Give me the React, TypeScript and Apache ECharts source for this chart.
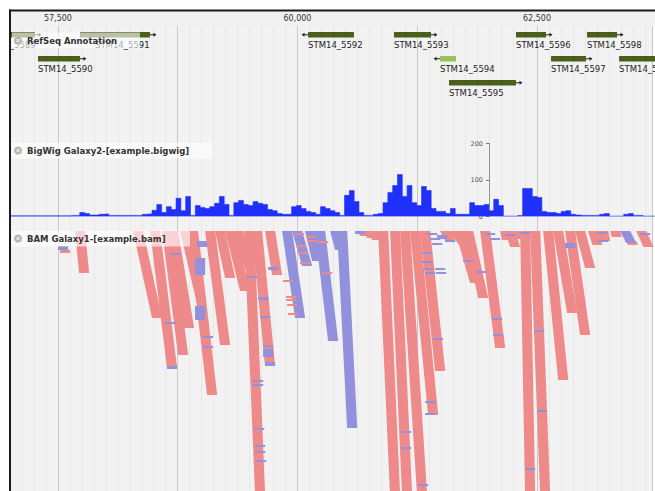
import React, { useEffect, useRef } from "react";
import * as echarts from "echarts";

// ---- genomic window ----
const VIEW_START = 57000;
const VIEW_END = 63700;
const MINOR_STEP = 125;
const RULER_LABELS = [57500, 60000, 62500];

// ---- RefSeq annotation ----
const geneNames = ["STM14_5589", "STM14_5591", "STM14_5590", "STM14_5592", "STM14_5593", "STM14_5594", "STM14_5595", "STM14_5596", "STM14_5597", "STM14_5598", "STM14_5599"];
const geneStarts = [56700, 57727, 57291, 60096, 60989, 61467, 61560, 62256, 62620, 62994, 63327];
const geneEnds = [57260, 58454, 57727, 60573, 61373, 61633, 62256, 62568, 62983, 63306, 63900];
const geneRows = [0, 0, 1, 0, 0, 1, 2, 0, 1, 0, 1];
const geneStrands = [1, 1, 1, -1, 1, -1, 1, 1, 1, 1, 1];
const geneLabelAt = [56700, 57883, 57291, 60096, 60989, 61467, 61560, 62256, 62620, 62994, 63327];
const geneKinds = ["cds", "cds", "cds", "cds", "cds", "pseudo", "cds", "cds", "cds", "cds", "cds"];

// ---- BigWig coverage (50 bp bins from 57,000) ----
const COVERAGE_START = 57000;
const COVERAGE_BIN = 50;
const coverage = [
  2, 2, 2, 2, 2, 2, 2, 2, 2, 2, 2, 2, 2, 3, 3, 11, 8, 4, 4, 6,
  7, 3, 3, 3, 3, 3, 3, 3, 6, 7, 17, 33, 11, 27, 19, 50, 16, 55, 3, 30,
  25, 22, 27, 36, 55, 33, 3, 38, 44, 33, 30, 41, 36, 33, 19, 16, 8, 6, 6, 27,
  30, 22, 14, 11, 6, 27, 22, 16, 11, 3, 58, 71, 41, 11, 3, 3, 6, 8, 38, 66,
  85, 115, 55, 85, 38, 30, 82, 71, 22, 14, 14, 8, 22, 6, 6, 6, 38, 30, 30, 33,
  16, 47, 30, 1, 1, 1, 3, 77, 77, 55, 52, 14, 11, 11, 8, 14, 16, 6, 4, 3,
  3, 3, 3, 6, 8, 1, 1, 1, 6, 8, 3, 3, 1, 1, 1,
];
const COVERAGE_TICKS_MAX = 200;

// ---- BAM: stacks of reads [topStart, bottomStart, fromRow, toRow] ----
const READ_BP = 105;
const forwardStacks = [
  [57675, 57717, 0, 42], [57520, 57520, 19, 22],
  [58278, 58475, 0, 87], [58455, 58631, 0, 137], [58579, 58746, 0, 124],
  [58642, 58808, 0, 97], [58766, 58933, 0, 69], [58849, 59047, 0, 164],
  [59026, 59182, 0, 114], [59130, 59234, 0, 47], [59234, 59390, 0, 60],
  [59317, 59442, 0, 39], [59432, 59546, 0, 265], [59514, 59649, 0, 135],
  [59649, 59722, 0, 44],
  [60600, 60640, 0, 5], [60678, 60710, 0, 7], [60720, 60760, 0, 9],
  [60824, 60948, 0, 265], [60948, 61073, 0, 265],
  [61052, 61229, 0, 265], [61156, 61343, 0, 184], [61260, 61416, 0, 140],
  [61468, 61520, 0, 10], [61551, 61676, 0, 15], [61624, 61779, 0, 52],
  [61707, 61863, 0, 67], [61883, 62039, 0, 117], [62091, 62110, 0, 9],
  [62143, 62195, 0, 16], [62190, 62240, 0, 8], [62299, 62351, 0, 265], [62403, 62507, 0, 265],
  [62538, 62694, 0, 149], [62642, 62787, 0, 82], [62766, 62922, 0, 104],
  [62870, 62974, 0, 37], [63005, 63050, 0, 14], [63109, 63130, 0, 10],
  [63234, 63250, 0, 6], [63400, 63420, 10, 14], [63504, 63580, 0, 16],
];
const reverseStacks = [
  [57499, 57499, 15, 19],
  [59826, 59961, 0, 87], [59930, 60034, 0, 35], [60065, 60138, 0, 30],
  [60169, 60304, 0, 110], [60398, 60502, 0, 197], [60325, 60377, 0, 19],
  [60585, 60585, 0, 3], [63338, 63400, 0, 12],
];
// mismatches [start, row, rows]
const mismatchesOnForward = [
  [58662, 22, 2], [58610, 91, 2], [58631, 135, 3], [58943, 10, 6], [58922, 27, 17],
  [58922, 75, 14], [59005, 105, 2], [59005, 115, 2], [59462, 45, 2], [59525, 149, 2],
  [59525, 153, 2], [59535, 197, 2], [59546, 214, 2], [59546, 220, 2], [59556, 229, 2],
  [59577, 66, 3], [59598, 85, 2], [59629, 114, 2], [59629, 118, 8], [59649, 131, 4],
  [59681, 36, 3], [61062, 200, 2], [61062, 216, 2], [61239, 253, 2], [61312, 170, 2],
  [61312, 182, 2], [61281, 21, 2], [61281, 30, 2], [61291, 37, 2], [61312, 41, 2],
  [61395, 107, 2], [61333, 2, 2], [61364, 7, 2], [61385, 12, 2], [61416, 37, 2],
  [61426, 41, 2], [61437, 4, 4], [61520, 9, 2], [61707, 29, 2], [61842, 40, 2],
  [62008, 87, 2], [62018, 103, 2], [62299, 1, 2], [62351, 237, 2], [62444, 99, 2],
  [62475, 179, 2], [62766, 12, 5], [63099, 1, 2], [63109, 9, 2], [61935, 2, 2],
  [61987, 7, 2], [62143, 3, 2], [63545, 2, 2],
];
const mismatchesOnReverse = [
  [59836, 49, 2], [59868, 65, 2], [59868, 68, 2], [59878, 73, 2], [59888, 82, 2],
  [59951, 2, 2], [59972, 14, 2], [59992, 21, 2], [60013, 31, 2], [60075, 5, 2],
  [60086, 9, 2], [60200, 10, 2], [60242, 41, 2],
];

// ---- styles ----
const PINK = "#ef8a8b";
const LAVENDER = "#9391db";
const COVERAGE_BLUE = "#1f30fb";
const GENE_GREEN = "#4b5e1b";
const PSEUDO_GREEN = "#9dbf5a";
const MINOR_LINE = "#e8e8e8";
const MAJOR_LINE = "#c8c8c8";
const GRID_LINE_COLORS = [MINOR_LINE, MINOR_LINE, MINOR_LINE, MINOR_LINE, MAJOR_LINE, MINOR_LINE, MINOR_LINE, MINOR_LINE, MINOR_LINE, MINOR_LINE];
const ROW_PITCH = 24;
const BAR_OFFSET = 6;
const BAR_H = 5.5;
const FONT = "DejaVu Sans";

function geneRender(params: any, api: any) {
  const i = params.dataIndex;
  const s = api.value(0);
  const e = api.value(1);
  const row = api.value(2);
  const strand = api.value(3);
  const labAt = api.value(4);
  const p0 = api.coord([s, row * ROW_PITCH + BAR_OFFSET]);
  const p1 = api.coord([e, row * ROW_PITCH + BAR_OFFSET]);
  const pl = api.coord([labAt, row * ROW_PITCH + BAR_OFFSET]);
  const y = p0[1];
  const cy = y + BAR_H / 2;
  const children: any[] = [
    {
      type: "rect",
      shape: { x: p0[0], y, width: p1[0] - p0[0], height: BAR_H },
      style: { fill: geneKinds[i] === "pseudo" ? PSEUDO_GREEN : GENE_GREEN },
    },
  ];
  if (strand > 0) {
    children.push({ type: "line", shape: { x1: p1[0], y1: cy, x2: p1[0] + 4, y2: cy }, style: { stroke: "#222", lineWidth: 1 } });
    children.push({ type: "polygon", shape: { points: [[p1[0] + 3.5, cy - 2], [p1[0] + 6.5, cy], [p1[0] + 3.5, cy + 2]] }, style: { fill: "#222" } });
  } else {
    children.push({ type: "line", shape: { x1: p0[0], y1: cy, x2: p0[0] - 4, y2: cy }, style: { stroke: "#222", lineWidth: 1 } });
    children.push({ type: "polygon", shape: { points: [[p0[0] - 3.5, cy - 2], [p0[0] - 6.5, cy], [p0[0] - 3.5, cy + 2]] }, style: { fill: "#222" } });
  }
  children.push({
    type: "text",
    x: pl[0],
    y: y + 13,
    style: {
      text: geneNames[i],
      fill: "#222",
      fontSize: 8.5,
      fontFamily: FONT,
      textAlign: "left",
      textVerticalAlign: "middle",
      align: "left",
      verticalAlign: "middle",
    },
  });
  return { type: "group", children };
}

function stackRender(color: string) {
  return (params: any, api: any) => {
    const tl = api.value(0);
    const bl = api.value(1);
    const r0 = api.value(2);
    const r1 = api.value(3);
    return {
      type: "polygon",
      shape: {
        points: [
          api.coord([tl, r0]),
          api.coord([tl + READ_BP, r0]),
          api.coord([bl + READ_BP, r1]),
          api.coord([bl, r1]),
        ],
      },
      style: { fill: color },
    };
  };
}

function markRender(color: string) {
  return (params: any, api: any) => {
    const s = api.value(0);
    const r = api.value(1);
    const h = api.value(2);
    const a = api.coord([s, r]);
    const b = api.coord([s + READ_BP, r + h]);
    return {
      type: "rect",
      shape: { x: a[0], y: a[1], width: b[0] - a[0], height: b[1] - a[1] },
      style: { fill: color },
    };
  };
}

function trackLabel(text: string, cy: number, boxRight: number) {
  return [
    { type: "rect", z: 60, shape: { x: 12, y: cy - 8, width: boxRight - 12, height: 16 }, style: { fill: "rgba(255,255,255,0.62)" } },
    { type: "circle", z: 61, shape: { cx: 18, cy, r: 4 }, style: { fill: "#b4b4b4" } },
    { type: "line", z: 62, shape: { x1: 16.3, y1: cy - 1.7, x2: 19.7, y2: cy + 1.7 }, style: { stroke: "#fff", lineWidth: 1 } },
    { type: "line", z: 62, shape: { x1: 16.3, y1: cy + 1.7, x2: 19.7, y2: cy - 1.7 }, style: { stroke: "#fff", lineWidth: 1 } },
    {
      type: "text", z: 62, x: 27, y: cy,
      style: { text, fill: "#333", fontSize: 8.5, fontWeight: "bold", fontFamily: FONT, textVerticalAlign: "middle", verticalAlign: "middle" },
    },
  ];
}

const hiddenX = (gridIndex: number) => ({ gridIndex, type: "value", min: VIEW_START, max: VIEW_END, show: false });

const option: any = {
  animation: false,
  backgroundColor: "#ffffff",
  grid: [
    { left: 10, right: 0, top: 26, bottom: 0, show: true, backgroundColor: "#f2f2f2", borderWidth: 0 },
    { left: 10, right: 0, top: 26, height: 80 },
    { left: 10, right: 0, top: 143.5, height: 73 },
    { left: 489, width: 1, top: 143.5, height: 73 },
    { left: 10, right: 0, top: 231, height: 260 },
  ],
  xAxis: [
    {
      gridIndex: 0, type: "value", min: VIEW_START, max: VIEW_END, interval: MINOR_STEP, position: "top",
      axisLine: { show: true, lineStyle: { color: "#a8a8a8" } },
      axisTick: { show: false },
      axisLabel: {
        fontSize: 8, color: "#333", margin: 4, fontFamily: FONT,
        formatter: (v: number) => (RULER_LABELS.indexOf(v) >= 0 ? v.toLocaleString("en-US") : ""),
      },
      splitLine: { show: true, lineStyle: { color: GRID_LINE_COLORS, width: 1 } },
    },
    hiddenX(1),
    hiddenX(2),
    { gridIndex: 3, type: "value", show: false },
    hiddenX(4),
  ],
  yAxis: [
    { gridIndex: 0, type: "value", show: false, min: 0, max: 1 },
    { gridIndex: 1, type: "value", show: false, min: 0, max: 80, inverse: true },
    { gridIndex: 2, type: "value", show: false, min: 0, max: COVERAGE_TICKS_MAX },
    {
      gridIndex: 3, type: "value", min: 0, max: COVERAGE_TICKS_MAX, interval: 100,
      axisLine: { show: true, lineStyle: { color: "#8a8a8a", type: "dotted", width: 1 } },
      axisTick: { show: true, length: 3, lineStyle: { color: "#777" } },
      axisLabel: { fontSize: 6.5, color: "#555", margin: 6, fontFamily: FONT },
      splitLine: { show: false },
    },
    { gridIndex: 4, type: "value", show: false, min: 0, max: 260, inverse: true },
  ],
  series: [
    {
      type: "custom", xAxisIndex: 1, yAxisIndex: 1, clip: true, z: 5,
      data: geneNames.map((_, i) => [geneStarts[i], geneEnds[i], geneRows[i], geneStrands[i], geneLabelAt[i]]),
      encode: { x: [0, 1], y: 2 },
      renderItem: geneRender,
    },
    {
      type: "line", xAxisIndex: 2, yAxisIndex: 2, step: "middle", symbol: "none", z: 5,
      data: coverage.map((v, i) => [COVERAGE_START + i * COVERAGE_BIN, v]),
      lineStyle: { width: 0.6, color: COVERAGE_BLUE },
      areaStyle: { color: COVERAGE_BLUE, opacity: 1 },
    },
    { type: "custom", xAxisIndex: 4, yAxisIndex: 4, clip: true, z: 5, data: forwardStacks, encode: { x: [0, 1], y: [2, 3] }, renderItem: stackRender(PINK) },
    { type: "custom", xAxisIndex: 4, yAxisIndex: 4, clip: true, z: 5, data: reverseStacks, encode: { x: [0, 1], y: [2, 3] }, renderItem: stackRender(LAVENDER) },
    { type: "custom", xAxisIndex: 4, yAxisIndex: 4, clip: true, z: 6, data: mismatchesOnForward, encode: { x: 0, y: 1 }, renderItem: markRender(LAVENDER) },
    { type: "custom", xAxisIndex: 4, yAxisIndex: 4, clip: true, z: 6, data: mismatchesOnReverse, encode: { x: 0, y: 1 }, renderItem: markRender(PINK) },
  ],
  graphic: [
    { type: "rect", z: -5, shape: { x: 10, y: 10, width: 645, height: 16 }, style: { fill: "#f1f1f1" } },
    ...trackLabel("RefSeq Annotation", 40.5, 140),
    ...trackLabel("BigWig Galaxy2-[example.bigwig]", 150.5, 212),
    ...trackLabel("BAM Galaxy1-[example.bam]", 238.5, 190),
    { type: "rect", z: 100, shape: { x: 9, y: 9.5, width: 646, height: 2 }, style: { fill: "#1c1c1c" } },
    { type: "rect", z: 100, shape: { x: 9, y: 9.5, width: 2, height: 482 }, style: { fill: "#1c1c1c" } },
  ],
};

export default function App() {
  const ref = useRef<HTMLDivElement>(null);
  useEffect(() => {
    document.body.style.margin = "0";
    const chart = echarts.init(ref.current!, null, { renderer: "svg" });
    chart.setOption(option);
    return () => chart.dispose();
  }, []);
  return <div ref={ref} style={{ width: 655, height: 491 }} />;
}
